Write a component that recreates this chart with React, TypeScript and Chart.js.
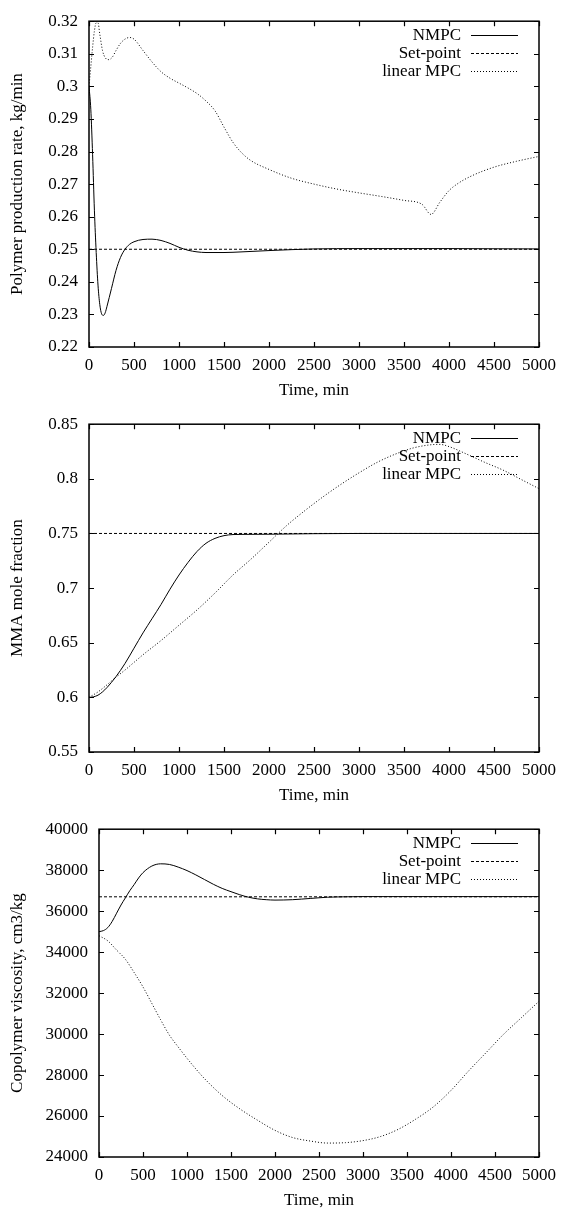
import React, { useEffect, useRef } from "react";
import { Chart, registerables } from "chart.js";

Chart.register(...registerables);

const FONT = "'Liberation Serif', 'Times New Roman', serif";
Chart.defaults.font.family = FONT;
Chart.defaults.font.size = 17;
Chart.defaults.color = "#000";

// ---------- shared ----------
const timeTicks = [0, 500, 1000, 1500, 2000, 2500, 3000, 3500, 4000, 4500, 5000];
const seriesNames = ["NMPC", "Set-point", "linear MPC"];

// ---------- panel 1: polymer production rate ----------
const prodTicks = [0.22, 0.23, 0.24, 0.25, 0.26, 0.27, 0.28, 0.29, 0.3, 0.31, 0.32];
const prodNmpcTime = [0, 20, 40, 60, 80, 100, 120, 140, 160, 180, 200, 250, 300, 350, 400, 450, 500, 600, 700, 800, 900, 1000, 1100, 1200, 1300, 1400, 1500, 1700, 2000, 2500, 3000, 4000, 5000];
const prodNmpc = [0.300, 0.293, 0.279, 0.262, 0.249, 0.239, 0.233, 0.2302, 0.2297, 0.2305, 0.2325, 0.238, 0.2435, 0.2475, 0.2500, 0.2515, 0.2523, 0.2530, 0.2531, 0.2527, 0.2518, 0.2506, 0.2497, 0.2492, 0.2490, 0.2490, 0.2490, 0.2492, 0.2496, 0.2501, 0.2502, 0.2502, 0.2501];
const prodSetTime = [0, 5000];
const prodSet = [0.25, 0.25];
const prodLinTime = [0, 20, 40, 60, 80, 100, 120, 150, 180, 220, 260, 300, 350, 400, 450, 500, 600, 700, 800, 900, 1000, 1100, 1200, 1300, 1400, 1500, 1600, 1700, 1800, 2000, 2250, 2500, 2750, 3000, 3250, 3500, 3700, 3800, 3900, 4000, 4100, 4250, 4500, 4750, 5000];
const prodLin = [0.300, 0.306, 0.312, 0.317, 0.3195, 0.3195, 0.316, 0.311, 0.3088, 0.3082, 0.309, 0.311, 0.3132, 0.3145, 0.3150, 0.3145, 0.311, 0.3075, 0.3045, 0.3025, 0.301, 0.2995, 0.2978, 0.2955, 0.2925, 0.2875, 0.2828, 0.2795, 0.2772, 0.2745, 0.2718, 0.2700, 0.2685, 0.2673, 0.2662, 0.2650, 0.2638, 0.2607, 0.2645, 0.2680, 0.2702, 0.2725, 0.2752, 0.2770, 0.2785];

// ---------- panel 2: MMA mole fraction ----------
const mmaTicks = [0.55, 0.6, 0.65, 0.7, 0.75, 0.8, 0.85];
const mmaNmpcTime = [0, 50, 100, 150, 200, 300, 400, 500, 600, 700, 800, 900, 1000, 1100, 1200, 1300, 1400, 1500, 1600, 1800, 2000, 2200, 2500, 3000, 4000, 5000];
const mmaNmpc = [0.600, 0.6005, 0.602, 0.605, 0.609, 0.619, 0.631, 0.645, 0.659, 0.672, 0.685, 0.699, 0.712, 0.7235, 0.7335, 0.741, 0.7455, 0.748, 0.749, 0.7492, 0.7493, 0.7495, 0.7498, 0.750, 0.750, 0.750];
const mmaSetTime = [0, 5000];
const mmaSet = [0.75, 0.75];
const mmaLinTime = [0, 100, 200, 300, 400, 500, 600, 800, 1000, 1200, 1400, 1600, 1800, 2000, 2200, 2400, 2600, 2800, 3000, 3200, 3400, 3600, 3800, 3900, 4000, 4200, 4400, 4600, 4800, 5000];
const mmaLin = [0.600, 0.605, 0.6115, 0.6185, 0.625, 0.632, 0.639, 0.652, 0.666, 0.680, 0.6955, 0.712, 0.7265, 0.742, 0.7575, 0.771, 0.7835, 0.795, 0.8055, 0.8150, 0.8225, 0.8282, 0.8312, 0.8315, 0.8295, 0.8225, 0.815, 0.808, 0.7995, 0.791];

// ---------- panel 3: copolymer viscosity ----------
const visTicks = [24000, 26000, 28000, 30000, 32000, 34000, 36000, 38000, 40000];
const visNmpcTime = [0, 50, 100, 150, 200, 250, 300, 350, 400, 450, 500, 600, 700, 800, 900, 1000, 1100, 1200, 1300, 1400, 1500, 1600, 1700, 1800, 1900, 2000, 2200, 2400, 2600, 2800, 3000, 4000, 5000];
const visNmpc = [35000, 35050, 35200, 35500, 35900, 36300, 36650, 37000, 37300, 37620, 37880, 38200, 38310, 38280, 38150, 37980, 37770, 37540, 37310, 37110, 36950, 36800, 36680, 36600, 36560, 36540, 36560, 36620, 36680, 36700, 36710, 36710, 36710];
const visSetTime = [0, 5000];
const visSet = [36700, 36700];
const visLinTime = [0, 100, 200, 300, 400, 500, 600, 700, 800, 900, 1000, 1100, 1200, 1400, 1600, 1800, 2000, 2200, 2400, 2600, 2800, 3000, 3200, 3400, 3600, 3800, 4000, 4200, 4400, 4600, 4800, 5000];
const visLin = [34800, 34550, 34100, 33650, 33000, 32300, 31500, 30700, 29950, 29370, 28820, 28300, 27820, 27000, 26350, 25800, 25300, 24950, 24780, 24680, 24700, 24800, 25000, 25350, 25850, 26450, 27250, 28200, 29100, 30000, 30800, 31600];

const DASHES = [[], [3, 2], [1, 2]];

const TICK_LEN = 5;
const LINE_HEIGHT = 17 * 1.2;
const TITLE_GAP = 44;

const framePlugin = {
  id: "gnuFrame",
  afterDraw(chart: any) {
    const { ctx, chartArea: a, scales } = chart;
    const xs = scales.x;
    const ys = scales.y;
    ctx.save();
    ctx.strokeStyle = "#000";
    ctx.setLineDash([]);
    ctx.lineWidth = 1.2;
    // inward ticks on all four sides
    ctx.beginPath();
    xs.ticks.forEach((t: any) => {
      const px = Math.round(xs.getPixelForValue(t.value)) + 0.5;
      ctx.moveTo(px, a.bottom);
      ctx.lineTo(px, a.bottom - TICK_LEN);
      ctx.moveTo(px, a.top);
      ctx.lineTo(px, a.top + TICK_LEN);
    });
    ys.ticks.forEach((t: any) => {
      const py = Math.round(ys.getPixelForValue(t.value)) + 0.5;
      ctx.moveTo(a.left, py);
      ctx.lineTo(a.left + TICK_LEN, py);
      ctx.moveTo(a.right, py);
      ctx.lineTo(a.right - TICK_LEN, py);
    });
    ctx.stroke();
    // frame
    ctx.lineWidth = 1.5;
    ctx.strokeRect(a.left, a.top, a.right - a.left, a.bottom - a.top);
    // key
    ctx.font = `17px ${FONT}`;
    ctx.textAlign = "right";
    ctx.textBaseline = "middle";
    ctx.fillStyle = "#000";
    chart.data.datasets.forEach((ds: any, i: number) => {
      const y = a.top + 14 + 18 * i;
      ctx.fillText(ds.label, a.right - 78, y);
      ctx.beginPath();
      ctx.lineWidth = 1;
      ctx.setLineDash(ds.borderDash || []);
      ctx.moveTo(a.right - 68, Math.round(y) + 0.5);
      ctx.lineTo(a.right - 21, Math.round(y) + 0.5);
      ctx.stroke();
    });
    ctx.restore();
  },
};

type PanelProps = {
  top: number;
  height: number;
  plotTop: number;
  plotBottom: number;
  leftWidth: number;
  yTitle: string;
  yTicks: number[];
  times: number[][];
  values: number[][];
};

function Panel({ top, height, plotTop, plotBottom, leftWidth, yTitle, yTicks, times, values }: PanelProps) {
  const ref = useRef<HTMLCanvasElement>(null);
  useEffect(() => {
    const xHeight = height - plotBottom;
    const chart = new Chart(ref.current as HTMLCanvasElement, {
      type: "line",
      data: {
        datasets: seriesNames.map((name, i) => ({
          label: name,
          data: times[i].map((t, j) => ({ x: t, y: values[i][j] })),
          borderColor: "#000",
          borderWidth: 1,
          borderDash: DASHES[i],
          pointRadius: 0,
          fill: false,
          cubicInterpolationMode: "monotone" as const,
        })),
      },
      options: {
        responsive: false,
        animation: false,
        events: [],
        layout: { padding: { top: plotTop, right: 19, left: 0, bottom: 0 } },
        plugins: { legend: { display: false }, tooltip: { enabled: false } },
        scales: {
          x: {
            type: "linear",
            min: timeTicks[0],
            max: timeTicks[timeTicks.length - 1],
            grid: { display: false, drawTicks: false },
            border: { display: false },
            afterBuildTicks: (s: any) => {
              s.ticks = timeTicks.map((v) => ({ value: v }));
            },
            afterFit: (s: any) => {
              s.height = xHeight;
            },
            ticks: {
              padding: 8,
              color: "#000",
              maxRotation: 0,
              autoSkip: false,
              callback: (v: any) => String(v),
            },
            title: {
              display: true,
              text: "Time, min",
              color: "#000",
              padding: { top: 0, bottom: Math.max(0, xHeight - TITLE_GAP - LINE_HEIGHT / 2) },
            },
          },
          y: {
            type: "linear",
            min: yTicks[0],
            max: yTicks[yTicks.length - 1],
            grid: { display: false, drawTicks: false },
            border: { display: false },
            afterBuildTicks: (s: any) => {
              s.ticks = yTicks.map((v) => ({ value: v }));
            },
            afterFit: (s: any) => {
              s.width = leftWidth;
            },
            ticks: {
              padding: 11,
              color: "#000",
              autoSkip: false,
              callback: (v: any) => String(Number(Number(v).toFixed(4))),
            },
            title: {
              display: true,
              text: yTitle,
              color: "#000",
              padding: { top: 7, bottom: 0 },
            },
          },
        },
      },
      plugins: [framePlugin],
    } as any);
    return () => chart.destroy();
  }, []);
  return (
    <canvas
      ref={ref}
      width={564}
      height={height}
      style={{ position: "absolute", left: 0, top, width: 564, height, display: "block" }}
    />
  );
}

export default function App() {
  return (
    <div style={{ position: "absolute", left: 0, top: 0, width: 564, height: 1212, background: "#fff", overflow: "hidden" }}>
      <Panel
        top={0}
        height={403}
        plotTop={18}
        plotBottom={347}
        leftWidth={89}
        yTitle="Polymer production rate, kg/min"
        yTicks={prodTicks}
        times={[prodNmpcTime, prodSetTime, prodLinTime]}
        values={[prodNmpc, prodSet, prodLin]}
      />
      <Panel
        top={403}
        height={405}
        plotTop={21}
        plotBottom={349}
        leftWidth={89}
        yTitle="MMA mole fraction"
        yTicks={mmaTicks}
        times={[mmaNmpcTime, mmaSetTime, mmaLinTime]}
        values={[mmaNmpc, mmaSet, mmaLin]}
      />
      <Panel
        top={808}
        height={404}
        plotTop={21}
        plotBottom={349}
        leftWidth={99}
        yTitle="Copolymer viscosity, cm3/kg"
        yTicks={visTicks}
        times={[visNmpcTime, visSetTime, visLinTime]}
        values={[visNmpc, visSet, visLin]}
      />
    </div>
  );
}
